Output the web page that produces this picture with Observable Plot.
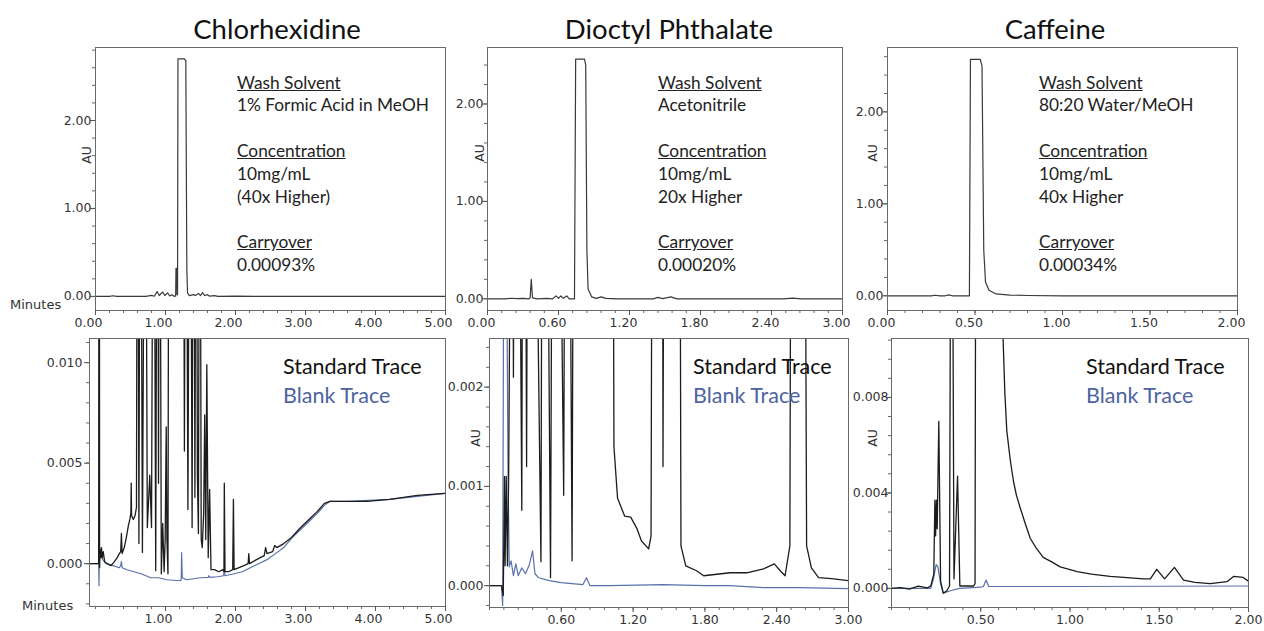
<!DOCTYPE html>
<html>
<head>
<meta charset="utf-8">
<script src="https://cdn.jsdelivr.net/npm/d3@7"></script>
<script src="https://cdn.jsdelivr.net/npm/@observablehq/plot@0.6"></script>
<style>
  body { margin: 0; background: #fff; }
  #wrap { position: relative; width: 1264px; height: 631px; overflow: hidden; font-family: Lato, sans-serif; }
  #wrap svg { position: absolute; }
  .t { position: absolute; white-space: nowrap; }
</style>
</head>
<body>
<div id="wrap"></div>
<script>
// ---------- Data (time in minutes, absorbance in AU) ----------
const titles = ["Chlorhexidine", "Dioctyl Phthalate", "Caffeine"];
const washSolvents = ["1% Formic Acid in MeOH", "Acetonitrile", "80:20 Water/MeOH"];
const concentrations = ["10mg/mL", "10mg/mL", "10mg/mL"];
const folds = ["(40x Higher)", "20x Higher", "40x Higher"];
const carryovers = ["0.00093%", "0.00020%", "0.00034%"];
const legendLabels = ["Standard Trace", "Blank Trace"];

// Top row: full-scale standard injections
const tlStandard = [[0,0],[0.2,0],[0.25,0.008],[0.3,0],[0.72,0],[0.8,0.012],[0.84,0.002],[0.88,0.055],[0.91,0.01],[0.96,0.05],[0.99,0.01],[1.03,0.04],[1.06,0.005],[1.09,0.02],[1.12,0.003],[1.145,0.003],[1.15,0.32],[1.16,0.32],[1.165,0.02],[1.172,0.02],[1.178,2.70],[1.27,2.70],[1.29,2.68],[1.305,0.3],[1.315,0.04],[1.34,0.01],[1.4,0.02],[1.43,0.01],[1.47,0.035],[1.5,0.01],[1.53,0.045],[1.56,0.01],[1.6,0.02],[1.63,0.003],[1.7,0.01],[1.75,0],[2.0,0.004],[2.3,0],[5,0]];
const tmStandard = [[0,0],[0.15,0],[0.2,0.006],[0.25,0.002],[0.3,0.005],[0.35,0],[0.36,0.01],[0.37,0.2],[0.38,0.01],[0.42,0],[0.5,0.005],[0.55,0],[0.58,0.03],[0.6,0.005],[0.62,0.03],[0.64,0.005],[0.67,0.03],[0.69,0],[0.735,0],[0.745,2.46],[0.82,2.46],[0.83,2.4],[0.84,0.5],[0.85,0.1],[0.88,0.02],[0.92,0.005],[0.96,0.02],[1.0,0.005],[1.1,0],[1.4,0],[1.44,0.015],[1.48,0.002],[1.55,0.02],[1.6,0],[2.5,0],[2.58,0.008],[2.65,0],[3,0]];
const trStandard = [[0,0],[0.25,0],[0.27,0.006],[0.3,0],[0.33,0],[0.35,0.01],[0.37,0],[0.468,0],[0.474,2.57],[0.53,2.57],[0.54,2.5],[0.55,0.5],[0.56,0.15],[0.58,0.06],[0.62,0.02],[0.7,0.008],[0.8,0.003],[1.0,0],[2,0]];

// Bottom row: zoomed standard and blank traces
const blStandard = [[-0.086,0],[0.03,0],[0.045,0],[0.05,0.03],[0.055,0.03],[0.058,-0.0002],[0.065,0.0007],[0.075,0.0003],[0.085,0.0008],[0.095,0.0003],[0.11,0.0006],[0.13,0.0001],[0.17,0],[0.22,-0.0001],[0.27,0.0001],[0.31,0.0003],[0.34,0.0005],[0.36,0.0006],[0.37,0.0015],[0.38,0.0005],[0.41,0.0008],[0.44,0.0013],[0.47,0.0019],[0.49,0.0022],[0.505,0.0025],[0.51,0.004],[0.515,0.0024],[0.54,0.0022],[0.565,0.0024],[0.585,0.0028],
  [0.60,0.03],[0.62,0.001],[0.64,0.03],[0.67,0.00056],[0.71,0.03],[0.74,0.0018],[0.775,0.0044],[0.80,0.0018],[0.83,0.03],[0.86,-0.00035],[0.885,0.03],[0.90,0.004],[0.915,0.03],[0.94,-0.0005],[0.96,0.002],[0.98,-0.0004],[0.995,0.0012],[1.01,0.0068],[1.02,0.0012],[1.035,-0.0005],[1.05,0.03],[1.25,0.03],
  [1.27,0.0056],[1.29,0.03],[1.32,0.0027],[1.35,0.03],[1.38,0.0018],[1.40,0.03],[1.42,0.0033],[1.44,0.03],[1.455,0.0044],[1.47,0.0015],[1.49,0.03],[1.51,0.0012],[1.525,0.0008],[1.545,0.0025],[1.56,0.0074],[1.575,0.0012],[1.59,0.0099],[1.61,0.0003],[1.63,0.0037],[1.65,-0.0003],
  [1.70,-0.0003],[1.76,-0.0004],[1.82,-0.0003],[1.835,-0.0004],[1.84,0.004],[1.85,-0.0004],[1.9,-0.0004],[1.96,-0.0003],[1.97,0.0032],[1.98,-0.0003],[2.05,-0.0002],[2.12,-0.0001],[2.18,0],[2.19,0.0005],[2.2,0],[2.3,0.0002],[2.41,0.0004],[2.43,0.0008],[2.45,0.0005],[2.53,0.0006],[2.56,0.0009],[2.59,0.0008],[2.69,0.001],[2.8,0.0013],[2.93,0.0018],[3.05,0.0022],[3.17,0.0026],[3.27,0.003],[3.35,0.0031],[3.6,0.0031],[3.88,0.0031],[4.2,0.0032],[4.6,0.0034],[5.0,0.0035]];
const blBlank = [[-0.086,0],[0.03,0],[0.045,0],[0.05,-0.0011],[0.055,0.0007],[0.06,0.0008],[0.07,0.0004],[0.08,0.0006],[0.1,0.0002],[0.15,0],[0.25,-0.0001],[0.34,-0.0002],[0.36,-0.0001],[0.37,0.0001],[0.38,-0.0002],[0.45,-0.0003],[0.55,-0.0004],[0.65,-0.0005],[0.79,-0.0007],[0.9,-0.0007],[1.02,-0.0008],[1.21,-0.00085],[1.225,-0.0008],[1.23,0.00055],[1.24,-0.0007],[1.3,-0.0008],[1.5,-0.0007],[1.61,-0.00068],[1.62,-0.0006],[1.63,-0.00068],[1.74,-0.00065],[1.83,-0.0006],[1.84,-0.0003],[1.85,-0.0006],[1.98,-0.0005],[2.1,-0.0004],[2.21,-0.0002],[2.33,0],[2.45,0.0002],[2.57,0.0005],[2.69,0.0008],[2.81,0.0013],[2.93,0.0017],[3.05,0.0021],[3.17,0.0025],[3.27,0.0029],[3.35,0.0031],[3.6,0.0031],[4.2,0.0032],[5.0,0.0035]];

const bmStandard = [[-0.02,0],[0.10,0],[0.115,-0.0001],[0.125,0.0011],[0.13,0.0002],[0.14,0.0011],[0.15,0.0002],[0.16,0.0011],[0.17,0.003],[0.18,0.01],[0.20,0.0021],[0.22,0.01],[0.27,0.00076],[0.285,0.01],[0.31,0.0012],[0.33,0.01],[0.43,0.00024],[0.45,0.01],[0.51,0.00008],[0.54,0.01],[0.62,0.00091],[0.645,0.01],[0.69,0.00025],[0.715,0.01],[1.02,0.01],[1.04,0.0014],[1.07,0.00088],[1.13,0.0007],[1.18,0.00069],[1.23,0.00058],[1.27,0.00045],[1.33,0.00037],[1.35,0.0005],[1.37,0.01],[1.44,0.01],[1.45,0.0012],[1.47,0.01],[1.58,0.01],[1.60,0.0004],[1.64,0.0002],[1.73,0.00015],[1.79,0.0001],[2.01,0.00013],[2.15,0.00013],[2.29,0.00017],[2.38,0.00022],[2.43,0.00015],[2.47,0.0001],[2.51,0.0004],[2.53,0.01],[2.62,0.01],[2.65,0.0004],[2.69,0.00018],[2.75,0.00008],[2.86,0.00007],[3.0,0.00005]];
const bmBlank = [[-0.02,0],[0.10,0],[0.11,-0.0002],[0.12,0.004],[0.14,0.004],[0.155,0.0011],[0.165,0.00019],[0.18,0.00025],[0.2,0.0001],[0.22,0.00022],[0.24,0.0001],[0.27,0.00018],[0.30,0.00012],[0.33,0.0002],[0.36,0.00035],[0.38,0.00012],[0.41,0.00008],[0.50,0.00005],[0.6,0.00003],[0.78,0.00001],[0.81,0.00008],[0.84,0],[1.0,0],[1.45,0.00001],[1.8,0],[2.01,0],[2.29,-0.00002],[2.6,-0.00002],[3.0,-0.00003]];

const brStandard = [[0,0],[0.05,0.00003],[0.1,-0.00003],[0.15,0.0001],[0.2,0.00002],[0.22,0.0001],[0.237,0.0006],[0.243,0.0037],[0.247,0.0022],[0.252,0.0037],[0.256,0.0025],[0.265,0.007],[0.275,0.0003],[0.29,-0.0002],[0.31,-0.0001],[0.325,0.0001],[0.333,0.02],[0.34,0.02],[0.35,0.0004],[0.37,0.0047],[0.383,0.0001],[0.42,0.0001],[0.46,0.0001],[0.468,0.0002],[0.475,0.03],[0.62,0.03],[0.625,0.0105],[0.635,0.0082],[0.646,0.0066],[0.665,0.0054],[0.683,0.0045],[0.70,0.0039],[0.72,0.0034],[0.75,0.0027],[0.777,0.0021],[0.81,0.0017],[0.85,0.0013],[0.9,0.0011],[0.945,0.0009],[1.04,0.0007],[1.12,0.0006],[1.225,0.0005],[1.32,0.00045],[1.41,0.0004],[1.45,0.0004],[1.486,0.0008],[1.53,0.0004],[1.585,0.00088],[1.636,0.00035],[1.7,0.00025],[1.785,0.0002],[1.88,0.00028],[1.916,0.0005],[1.97,0.00046],[2.0,0.0003]];
const brBlank = [[0,0],[0.22,0],[0.235,0.0004],[0.25,0.001],[0.26,0.0009],[0.275,0.0002],[0.29,-0.0002],[0.33,-0.0001],[0.38,0],[0.5,0.00005],[0.515,0.00008],[0.53,0.00035],[0.545,0.00008],[0.6,0.00008],[1.0,0.00008],[1.5,0.00009],[2.0,0.0001]];

// Tick labels
const tlXTicks = [0, 1, 2, 3, 4, 5];
const tmXTicks = [0, 0.6, 1.2, 1.8, 2.4, 3.0];
const trXTicks = [0, 0.5, 1.0, 1.5, 2.0];
const blXTicks = [1, 2, 3, 4, 5];
const bmXTicks = [0.6, 1.2, 1.8, 2.4, 3.0];
const brXTicks = [0.5, 1.0, 1.5, 2.0];
const topYTicks = [0, 1, 2];
const blYTicks = [0, 0.005, 0.010];
const bmYTicks = [0, 0.001, 0.002];
const brYTicks = [0, 0.004, 0.008];

// ---------- Drawing ----------
const BLACK = "#1c1c1c", TOPLINE = "#3a3a3a", BLUE = "#5a70ab";
const wrap = document.getElementById("wrap");

function minorTicks(domain, step) {
  const out = [];
  for (let k = Math.ceil(domain[0] / step - 1e-9); k * step <= domain[1] + 1e-9; k++) out.push(+(k * step).toFixed(6));
  return out;
}

function panel(p) {
  const mL = 62, mR = 12, mT = 6, mB = 32;
  const [fx0, fy0, fx1, fy1] = p.frame;
  const fmtX = d => d.toFixed(p.xf), fmtY = d => d.toFixed(p.yf);
  const svg = Plot.plot({
    width: fx1 - fx0 + mL + mR,
    height: fy1 - fy0 + mT + mB,
    marginLeft: mL, marginRight: mR, marginTop: mT, marginBottom: mB,
    x: {domain: p.x}, y: {domain: p.y},
    style: {fontFamily: "'DejaVu Sans', sans-serif", fontSize: "12.5px", color: "#333", background: "transparent", overflow: "visible"},
    marks: [
      ...p.lines.map(l => Plot.line(l.data, {x: d => d[0], y: d => d[1], stroke: l.stroke, strokeWidth: l.w, clip: true})),
      Plot.frame({stroke: "#6a6a6a", strokeWidth: 1}),
      Plot.axisX({ticks: minorTicks(p.x, p.xm), tickSize: 3, tickFormat: () => "", label: null, stroke: "#666"}),
      Plot.axisX({ticks: p.xt, tickSize: 5, tickFormat: () => "", label: null, stroke: "#555"}),
      Plot.axisX({ticks: p.xt, tickSize: 0, tickPadding: 8, tickFormat: fmtX, label: null, dx: p.xdx, fill: "#333"}),
      Plot.axisY({ticks: minorTicks(p.y, p.ym), tickSize: 3, tickFormat: () => "", label: null, stroke: "#666"}),
      Plot.axisY({ticks: p.yt, tickSize: 5, tickFormat: () => "", label: null, stroke: "#555"}),
      Plot.axisY({ticks: p.yt, tickSize: 0, tickPadding: p.ypad, tickFormat: fmtY, label: null, fill: "#333"})
    ]
  });
  svg.style.left = (fx0 - mL) + "px";
  svg.style.top = (fy0 - mT) + "px";
  wrap.appendChild(svg);
}

const panels = [
  {frame: [95, 47, 445, 310], x: [0, 5], y: [-0.16, 2.83], xt: tlXTicks, xf: 2, xm: 0.2, yt: topYTicks, yf: 2, ym: 0.2, ypad: 4, xdx: -7,
   lines: [{data: tlStandard, stroke: TOPLINE, w: 1.2}]},
  {frame: [487, 47, 842, 310], x: [0, 3], y: [-0.12, 2.58], xt: tmXTicks, xf: 2, xm: 0.12, yt: topYTicks, yf: 2, ym: 0.2, ypad: 4, xdx: -6,
   lines: [{data: tmStandard, stroke: TOPLINE, w: 1.2}]},
  {frame: [887, 47, 1237, 310], x: [0, 2], y: [-0.16, 2.70], xt: trXTicks, xf: 2, xm: 0.1, yt: topYTicks, yf: 2, ym: 0.2, ypad: 4, xdx: -6,
   lines: [{data: trStandard, stroke: TOPLINE, w: 1.2}]},
  {frame: [89, 338, 445, 606], x: [-0.086, 5], y: [-0.00213, 0.0112], xt: blXTicks, xf: 2, xm: 0.2, yt: blYTicks, yf: 3, ym: 0.001, ypad: 7, xdx: -7,
   lines: [{data: blBlank, stroke: BLUE, w: 1.2}, {data: blStandard, stroke: BLACK, w: 1.3}]},
  {frame: [489, 338, 848, 607], x: [0, 3], y: [-0.00022, 0.00249], xt: bmXTicks, xf: 2, xm: 0.12, yt: bmYTicks, yf: 3, ym: 0.0002, ypad: 6, xdx: 0,
   lines: [{data: bmBlank, stroke: BLUE, w: 1.2}, {data: bmStandard, stroke: BLACK, w: 1.3}]},
  {frame: [891, 338, 1248, 607], x: [0, 2], y: [-0.0008, 0.01047], xt: brXTicks, xf: 2, xm: 0.1, yt: brYTicks, yf: 3, ym: 0.0008, ypad: 3, xdx: 0,
   lines: [{data: brBlank, stroke: BLUE, w: 1.2}, {data: brStandard, stroke: BLACK, w: 1.3}]}
];
panels.forEach(panel);

// ---------- Text ----------
function addText(html, css) {
  const d = document.createElement("div");
  d.className = "t";
  d.innerHTML = html;
  Object.assign(d.style, css);
  wrap.appendChild(d);
  return d;
}

const titleCenters = [277, 669, 1055];
titles.forEach((t, i) => addText(t, {left: titleCenters[i] + "px", top: "28px", transform: "translate(-50%,-50%)", fontSize: "27.5px", color: "#111"}));

const annoX = [237, 658, 1039];
annoX.forEach((x, i) => addText(
  `<u>Wash Solvent</u><br>${washSolvents[i]}<br><br><u>Concentration</u><br>${concentrations[i]}<br>${folds[i]}<br><br><u>Carryover</u><br>${carryovers[i]}`,
  {left: x + "px", top: "71.6px", fontSize: "17.3px", lineHeight: "22.8px", color: "#222"}));

const legendX = [283, 693, 1086];
legendX.forEach(x => {
  addText(legendLabels[0], {left: x + "px", top: "366px", transform: "translateY(-50%)", fontSize: "21.5px", color: "#111"});
  addText(legendLabels[1], {left: x + "px", top: "395px", transform: "translateY(-50%)", fontSize: "21.5px", color: "#4d63a1"});
});

[[86, 155], [479, 153], [872, 153], [475, 438], [872, 438]].forEach(([x, y]) =>
  addText("AU", {left: x + "px", top: y + "px", transform: "translate(-50%,-50%) rotate(-90deg)", fontFamily: "'DejaVu Sans', sans-serif", fontSize: "12.5px", color: "#333"}));

addText("Minutes", {left: "10px", top: "304px", transform: "translateY(-50%)", fontFamily: "'DejaVu Sans', sans-serif", fontSize: "13px", color: "#333"});
addText("Minutes", {left: "22px", top: "605px", transform: "translateY(-50%)", fontFamily: "'DejaVu Sans', sans-serif", fontSize: "13px", color: "#333"});
</script>
</body>
</html>
